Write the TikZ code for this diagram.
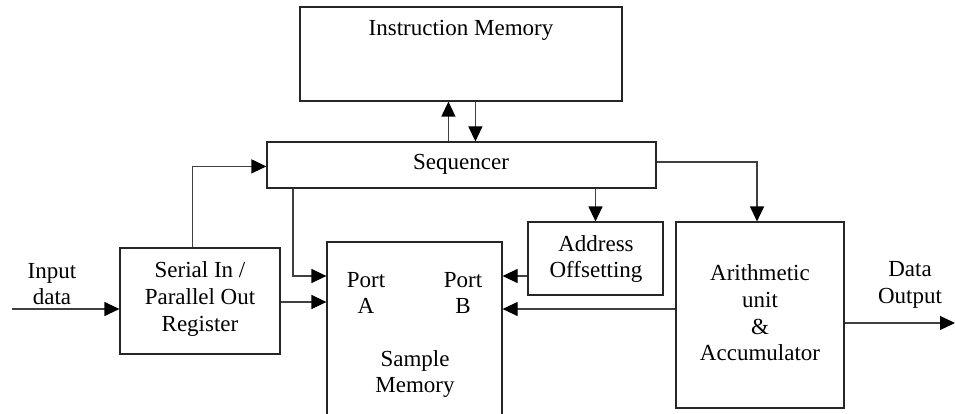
\documentclass[tikz,border=0pt]{standalone}
\usepackage{fontspec}
\setmainfont{Liberation Serif}
\usetikzlibrary{arrows.meta}
\begin{document}
\begin{tikzpicture}[x=1pt,y=-1pt,
  box/.style={draw=black!85,line width=1.2pt,rectangle,inner sep=0pt},
  lbl/.style={align=center,inner sep=0pt,font=\fontsize{23}{26.7}\selectfont},
  arr/.style={draw=black!75,line width=1.2pt,-{Triangle[length=15pt,width=14pt,color=black]}},
  ln/.style={draw=black!75,line width=1.2pt}]
\useasboundingbox (0,0) rectangle (955,414);
% boxes
\node[box,minimum width=322pt,minimum height=94pt] (im) at (461,54) {};
\node[box,minimum width=389pt,minimum height=46pt] (seq) at (461.5,165) {};
\node[box,minimum width=160pt,minimum height=106pt] (sipo) at (200,301) {};
\node[box,minimum width=175pt,minimum height=178pt] (sm) at (414.5,331) {};
\node[box,minimum width=135pt,minimum height=73pt] (ao) at (595.5,258.5) {};
\node[box,minimum width=168pt,minimum height=186pt] (au) at (760,315) {};
% labels
\node[lbl] (timem) at (461,30) {Instruction Memory};
\node[lbl] (tseq) at (461,164) {Sequencer};
\node[lbl] (tsipo) at (200,299) {Serial In /\\Parallel Out\\Register};
\node[lbl] (tin) at (52,284) {Input\\data};
\node[lbl] (tpa) at (366,293) {Port\\A};
\node[lbl] (tpb) at (463,293) {Port\\B};
\node[lbl] (tsm) at (415,374) {Sample\\Memory};
\node[lbl] (tao) at (596,259) {Address\\Offsetting};
\node[lbl] (tau) at (760,313) {Arithmetic\\unit\\\&\\Accumulator};
\node[lbl] (tout) at (910,285) {Data\\Output};
% helper coordinates
\coordinate (in) at (12,309);
\coordinate (p1) at (0,302);
\coordinate (p2) at (293,276);
\coordinate (p3) at (0,309);
\coordinate (p4) at (757,162);
\coordinate (out) at (955,323);
% connectors
\draw[arr] ([xshift=182pt]seq.north west) -- ([xshift=149pt]im.south west);
\draw[arr] ([xshift=176pt]im.south west) -- ([xshift=209pt]seq.north west);
\draw[arr] ([xshift=73pt]sipo.north west) |- ([yshift=-25pt]seq.north west);
\draw[arr] (in) -- (in -| sipo.west);
\draw[arr] (sipo.east |- p1) -- (sm.west |- p1);
\draw[arr] (seq.south -| p2) |- (sm.west |- p2);
\draw[arr] (seq.south -| ao.north) -- (ao.north);
\draw[arr] (ao.west |- p2) -- (sm.east |- p2);
\draw[arr] (au.west |- p3) -- (sm.east |- p3);
\draw[arr] (seq.east |- p4) -| (au.north -| p4);
\draw[arr] (au.east |- out) -- (out);
\end{tikzpicture}
\end{document}
